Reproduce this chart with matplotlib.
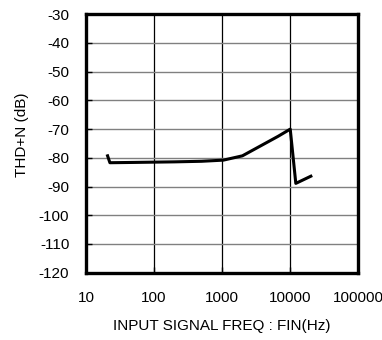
import matplotlib
matplotlib.use('Agg')
import matplotlib.pyplot as plt

plt.rcParams['font.family'] = ['Liberation Sans', 'DejaVu Sans']

# THD+N vs input frequency
freq_hz = [20.8, 22.5, 50, 200, 500, 1050, 2000, 6700, 10100, 12200, 20300]
thd_db = [-79.3, -81.7, -81.6, -81.4, -81.2, -80.8, -79.3, -72.5, -70.0, -88.9, -86.4]

y_ticks = list(range(-120, -29, 10))
x_ticks = [10, 100, 1000, 10000, 100000]
x_ticklabels = ['10', '100', '1000', '10000', '100000']

fig = plt.figure(figsize=(3.82, 3.40), dpi=100)
ax = fig.add_axes([0.225, 0.198, 0.712, 0.76])

ax.plot(freq_hz, thd_db, color='black', linewidth=2.2)

ax.set_xscale('log')
ax.set_xlim(10, 100000)
ax.set_ylim(-120, -30)
ax.set_xticks(x_ticks)
ax.set_xticklabels(x_ticklabels)
ax.minorticks_off()
ax.set_yticks(y_ticks)
ax.set_yticklabels([str(v) for v in y_ticks])

for v in x_ticks[1:-1]:
    ax.axvline(v, color='black', linewidth=0.9, zorder=0)
for v in y_ticks[1:-1]:
    ax.axhline(v, color='#808080', linewidth=1.0, zorder=0)

for s in ax.spines.values():
    s.set_linewidth(2.4)
ax.tick_params(direction='in', length=4, width=1, labelsize=11)
ax.tick_params(axis='y', pad=12)
ax.tick_params(axis='x', pad=13)

ax.set_xlabel('INPUT SIGNAL FREQ : FIN(Hz)', fontsize=11, labelpad=10)
ax.set_ylabel('THD+N (dB)', fontsize=11)
ax.yaxis.set_label_coords(-0.21, 0.535)

fig.savefig('out.png', dpi=100)
